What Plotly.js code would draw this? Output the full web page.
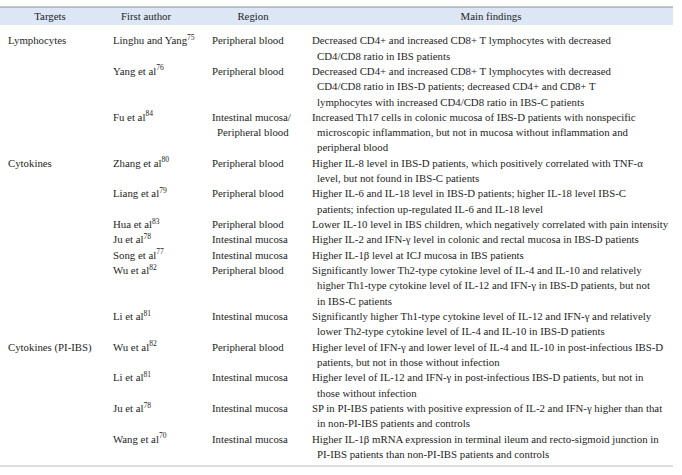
<!DOCTYPE html>
<html><head><meta charset="utf-8">
<script src="https://cdn.plot.ly/plotly-3.0.1.min.js"></script>
<style>html,body{margin:0;padding:0;background:#fff}</style>
</head><body><div id="chart" style="width:682px;height:475px"></div>
<script>
// ---------- data ----------
const headers = ['Targets', 'First author', 'Region', 'Main findings'];
const targets = ['Lymphocytes', '', '', 'Cytokines', '', '', '', '', '', '', 'Cytokines (PI-IBS)', '', '', ''];
const authors = ['Linghu and Yang', 'Yang et al', 'Fu et al', 'Zhang et al', 'Liang et al', 'Hua et al', 'Ju et al',
  'Song et al', 'Wu et al', 'Li et al', 'Wu et al', 'Li et al', 'Ju et al', 'Wang et al'];
const refs = [75, 76, 84, 80, 79, 83, 78, 77, 82, 81, 82, 81, 78, 70];
const regions = [
  ['Peripheral blood'], ['Peripheral blood'], ['Intestinal mucosa/', 'Peripheral blood'],
  ['Peripheral blood'], ['Peripheral blood'], ['Peripheral blood'], ['Intestinal mucosa'],
  ['Intestinal mucosa'], ['Peripheral blood'], ['Intestinal mucosa'], ['Peripheral blood'],
  ['Intestinal mucosa'], ['Intestinal mucosa'], ['Intestinal mucosa']
];
const findings = [
  ['Decreased CD4+ and increased CD8+ T lymphocytes with decreased', 'CD4/CD8 ratio in IBS patients'],
  ['Decreased CD4+ and increased CD8+ T lymphocytes with decreased', 'CD4/CD8 ratio in IBS-D patients; decreased CD4+ and CD8+ T', 'lymphocytes with increased CD4/CD8 ratio in IBS-C patients'],
  ['Increased Th17 cells in colonic mucosa of IBS-D patients with nonspecific', 'microscopic inflammation, but not in mucosa without inflammation and', 'peripheral blood'],
  ['Higher IL-8 level in IBS-D patients, which positively correlated with TNF-α', 'level, but not found in IBS-C patients'],
  ['Higher IL-6 and IL-18 level in IBS-D patients; higher IL-18 level IBS-C', 'patients; infection up-regulated IL-6 and IL-18 level'],
  ['Lower IL-10 level in IBS children, which negatively correlated with pain intensity'],
  ['Higher IL-2 and IFN-γ level in colonic and rectal mucosa in IBS-D patients'],
  ['Higher IL-1β level at ICJ mucosa in IBS patients'],
  ['Significantly lower Th2-type cytokine level of IL-4 and IL-10 and relatively', 'higher Th1-type cytokine level of IL-12 and IFN-γ in IBS-D patients, but not', 'in IBS-C patients'],
  ['Significantly higher Th1-type cytokine level of IL-12 and IFN-γ and relatively', 'lower Th2-type cytokine level of IL-4 and IL-10 in IBS-D patients'],
  ['Higher level of IFN-γ and lower level of IL-4 and IL-10 in post-infectious IBS-D', 'patients, but not in those without infection'],
  ['Higher level of IL-12 and IFN-γ in post-infectious IBS-D patients, but not in', 'those without infection'],
  ['SP in PI-IBS patients with positive expression of IL-2 and IFN-γ higher than that', 'in non-PI-IBS patients and controls'],
  ['Higher IL-1β mRNA expression in terminal ileum and recto-sigmoid junction in', 'PI-IBS patients than non-PI-IBS patients and controls']
];

// ---------- layout constants ----------
const W = 682, H = 475;
const LINE = 15.33;       // px per text line
const FIRST = 41.5;       // px, centre of first body line
const colLeft = [8, 113, 212, 312];
const headerCenter = [50, 146, 253, 491];
const indent = 5;
const FONT = {family: 'Liberation Serif, DejaVu Serif, serif', size: 10.8, color: '#1e1e1e'};
const toLine = px => (px - FIRST) / LINE;

// row start positions (in line units)
const rowStart = [];
let acc = 0;
findings.forEach((f, i) => { rowStart.push(acc); acc += Math.max(f.length, regions[i].length); });

function linesTrace(col, textsPerRow, cont) {
  const x = [], y = [], t = [];
  textsPerRow.forEach((lines, i) => {
    lines.forEach((s, j) => {
      if ((j > 0) !== cont || s === '') return;
      x.push(colLeft[col] + (cont ? indent : 0)); y.push(rowStart[i] + j); t.push(s);
    });
  });
  return {type: 'scatter', mode: 'text', x, y, text: t, textposition: 'middle right',
          textfont: FONT, hoverinfo: 'skip', cliponaxis: false, showlegend: false};
}

const traces = [
  {type: 'scatter', mode: 'text', x: headerCenter, y: headers.map(() => toLine(17.5)), text: headers,
   textposition: 'middle center', textfont: FONT, hoverinfo: 'skip', cliponaxis: false, showlegend: false},
  linesTrace(0, targets.map(s => [s]), false),
  linesTrace(1, authors.map((a, i) => [a + '<sup>' + refs[i] + '</sup>']), false),
  linesTrace(2, regions, false),
  linesTrace(2, regions, true),
  linesTrace(3, findings, false),
  linesTrace(3, findings, true)
];

const layout = {
  width: W, height: H, margin: {l: 0, r: 0, t: 0, b: 0},
  paper_bgcolor: '#ffffff', plot_bgcolor: '#ffffff',
  xaxis: {range: [0, W], visible: false, fixedrange: true},
  yaxis: {range: [toLine(H), toLine(0)], visible: false, fixedrange: true},
  shapes: [
    {type: 'rect', xref: 'x', yref: 'y', x0: 0, x1: 673, y0: toLine(7), y1: toLine(25),
     fillcolor: '#dce6f5', line: {width: 0}, layer: 'below'},
    {type: 'line', xref: 'x', yref: 'y', x0: 0, x1: 673, y0: toLine(7), y1: toLine(7),
     line: {color: '#8f8f8f', width: 1}},
    {type: 'line', xref: 'x', yref: 'y', x0: 0, x1: 673, y0: toLine(466), y1: toLine(466),
     line: {color: '#bdbdbd', width: 1}}
  ]
};

Plotly.newPlot('chart', traces, layout, {staticPlot: true, displayModeBar: false});
</script>
</body></html>
